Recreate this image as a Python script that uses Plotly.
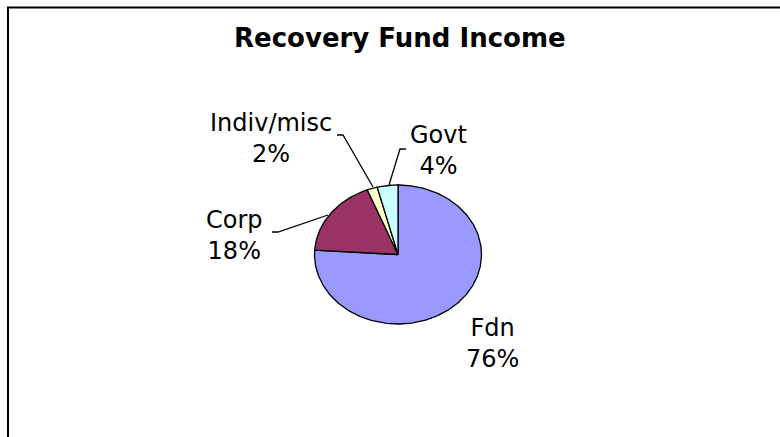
import numpy as np
import plotly.graph_objects as go

# ---- data ----
categories = ["Fdn", "Corp", "Indiv/misc", "Govt"]
values = [76, 18, 2, 4]
colors = ["#9999FF", "#993366", "#FFFFCC", "#CCFFFF"]
title = "Recovery Fund Income"

# ---- layout geometry (pixel-like axis units) ----
W, H = 780, 437
cx, cy = 398, 254.5
rx, ry = 83.5, 69.5

fig = go.Figure()

total = float(sum(values))
start = 0.0
for cat, val, col in zip(categories, values, colors):
    frac = val / total
    t = np.linspace(start, start + frac, max(4, int(frac * 400))) * 2 * np.pi
    xs = np.concatenate([[cx], cx + rx * np.sin(t), [cx]])
    ys = np.concatenate([[cy], cy - ry * np.cos(t), [cy]])
    fig.add_trace(go.Scatter(
        x=xs, y=ys, mode="lines", fill="toself", fillcolor=col,
        line=dict(color="black", width=1.3), name=cat,
        hoverinfo="text", text=f"{cat}: {val}%", showlegend=False))
    start += frac

# leader lines
leaders = [
    ([337, 343, 373], [135, 135, 187]),
    ([406, 400, 389], [149, 149, 185]),
    ([272, 278, 328], [232, 232, 215]),
]
for lx, ly in leaders:
    fig.add_trace(go.Scatter(x=lx, y=ly, mode="lines",
                             line=dict(color="black", width=1.3),
                             hoverinfo="skip", showlegend=False))

label_pos = {"Fdn": (492, 343), "Corp": (234, 235),
             "Indiv/misc": (271, 138), "Govt": (438, 150)}
font = "DejaVu Sans, Verdana, sans-serif"
for cat, val in zip(categories, values):
    x, y = label_pos[cat]
    fig.add_annotation(x=x, y=y, xref="x", yref="y", showarrow=False,
                       text=f"{cat}<br>{round(val / total * 100)}%",
                       font=dict(family=font, size=24, color="black"),
                       xanchor="center", yanchor="middle", align="center")

fig.add_annotation(x=400, y=38, xref="x", yref="y", showarrow=False,
                   text=f"<b>{title}</b>",
                   font=dict(family=font, size=26, color="black"),
                   xanchor="center", yanchor="middle")

# chart border (top and left edges visible)
fig.add_shape(type="line", x0=7, x1=W, y0=7.5, y1=7.5, xref="x", yref="y",
              line=dict(color="black", width=2))
fig.add_shape(type="line", x0=8, x1=8, y0=7, y1=H, xref="x", yref="y",
              line=dict(color="black", width=2))

fig.update_layout(
    width=W, height=H, margin=dict(l=0, r=0, t=0, b=0),
    paper_bgcolor="white", plot_bgcolor="white",
    xaxis=dict(range=[0, W], visible=False, fixedrange=True),
    yaxis=dict(range=[H, 0], visible=False, fixedrange=True),
)

fig.write_html("out.html")
